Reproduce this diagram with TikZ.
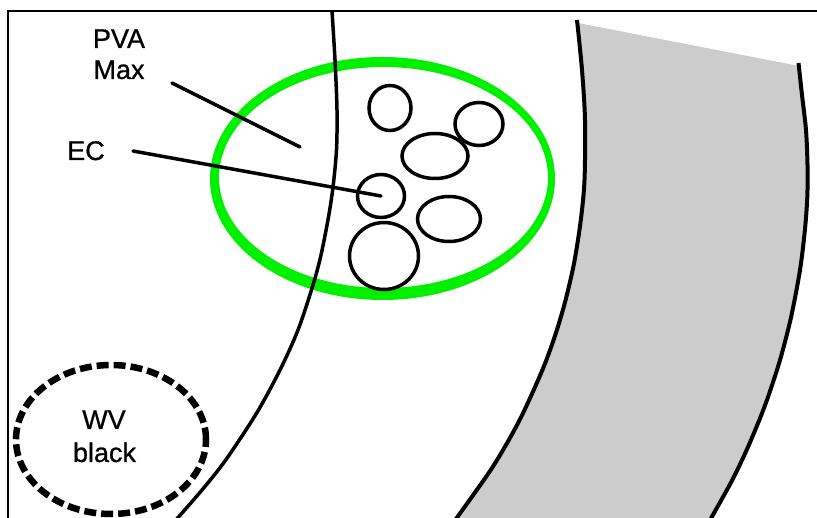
\documentclass[tikz,border=0pt]{standalone}
\usepackage{fontspec}
\setmainfont{Liberation Sans}[FakeBold=0.8]
\usetikzlibrary{shapes.geometric}
\definecolor{ringgreen}{RGB}{0,240,0}
\definecolor{bandgray}{RGB}{204,204,204}
\begin{document}
\begin{tikzpicture}[x=1pt,y=-1pt,
  lbl/.style={font=\fontsize{27}{31}\selectfont, inner sep=0pt, anchor=base},
  cell/.style={draw, ellipse, line width=3.5pt, inner sep=0pt},
  arcline/.style={line width=4pt, line join=round},
  pointer/.style={line width=3.5pt, line cap=round}]
\useasboundingbox (0,0) rectangle (817,518);
% frame
\draw[line width=2pt] (8,518) -- (8,11) -- (817,11);
% gray band
\fill[bandgray] plot[smooth] coordinates {(578,23) (582,70) (585,120) (584.5,180) (580.8,220) (574.1,263) (564.8,303) (554.6,337) (542.4,370) (523.1,413) (507.1,443) (488.7,473) (456.2,518)}
  -- plot[smooth] coordinates {(711.3,518) (732.3,480) (748,447) (762.1,413) (771.1,388) (780.9,357) (791.1,317) (800,270) (804.9,230) (807.3,197) (807.5,165) (806,130) (802,95) (799,66)} -- cycle;
\draw[arcline] plot[smooth] coordinates {(577,20) (582,70) (585,120) (584.5,180) (580.8,220) (574.1,263) (564.8,303) (554.6,337) (542.4,370) (523.1,413) (507.1,443) (488.7,473) (454.5,521)};
\draw[arcline] plot[smooth] coordinates {(798.5,63) (802,95) (806,130) (807.5,165) (807.3,197) (804.9,230) (800,270) (791.1,317) (780.9,357) (771.1,388) (762.1,413) (748,447) (732.3,480) (709.5,521)};
% green ring
\fill[ringgreen, even odd rule] (382.5,178.5) ellipse [x radius=172.5, y radius=121.5]
  (383.5,177.5) ellipse [x radius=164.5, y radius=110.5];
% cells
\node[cell, minimum width=42pt, minimum height=45pt] (c1) at (390,108) {};
\node[cell, minimum width=48pt, minimum height=43pt] (c2) at (479,124) {};
\node[cell, minimum width=66pt, minimum height=45pt] (c3) at (435,156) {};
\node[cell, minimum width=47pt, minimum height=43pt] (c4) at (381,196) {};
\node[cell, minimum width=63pt, minimum height=45pt] (c5) at (449,219) {};
\node[cell, minimum width=69pt, minimum height=67pt] (c6) at (384,256) {};
% left arc
\draw[line width=3.5pt, line join=round] plot[smooth] coordinates {(332,11) (335,60) (337,110) (336.5,150) (333,187) (328.5,217) (321,255) (313,285) (298,330) (280,370) (256.7,413) (225.7,460) (202,490) (175,521)};
% dashed ellipse
\node[draw, ellipse, line width=6.5pt, dash pattern=on 12pt off 5pt, minimum width=190pt, minimum height=149pt, inner sep=0pt] (wv) at (111,439.5) {};
% labels
\node[lbl] (pva) at (119,48) {PVA};
\node[lbl] (max) at (119,79) {Max};
\node[lbl] (ec) at (86,160) {EC};
\node[lbl] (wvt) at (104,429) {WV};
\node[lbl] (blk) at (104.5,462) {black};
% pointers
\coordinate (pvastart) at (172,83);
\coordinate (pvatip) at (300,147);
\coordinate (ecstart) at (133,151);
\draw[pointer] (pvastart) -- (pvatip);
\draw[pointer] (ecstart) -- (c4.center);
\end{tikzpicture}
\end{document}
